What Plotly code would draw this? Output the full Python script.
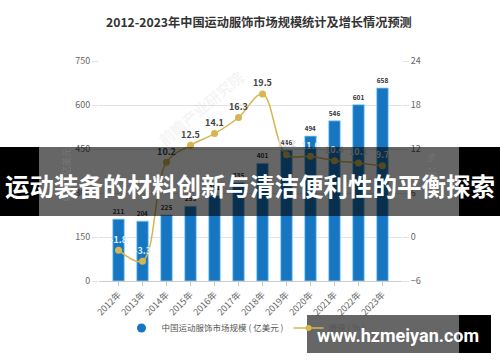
import plotly.graph_objects as go

years = ["2012年", "2013年", "2014年", "2015年", "2016年", "2017年",
         "2018年", "2019年", "2020年", "2021年", "2022年", "2023年"]
market_size = [211, 204, 225, 255, 291, 335, 401, 446, 494, 546, 601, 658]
growth = [-1.8, -3.3, 10.2, 12.5, 14.1, 16.3, 19.5, 11.2, 11.0, 10.4, 10.1, 9.7]
left_ticks = [0, 150, 300, 450, 600, 750]
right_ticks = [-6, 0, 6, 12, 18, 24]

W, H = 500, 362
L, R, T, B = 99, 402, 61, 281


def px(x):
    return (x - L) / (R - L)


def py(y):
    return (B - y) / (B - T)


FONT = "Noto Sans CJK SC, sans-serif"
BLUE = "#1776c2"
GOLD = "#d6b650"

fig = go.Figure()

fig.add_trace(go.Bar(
    x=years, y=market_size, marker=dict(color=BLUE, line=dict(color="#8ad2f0", width=0.8)),
    text=[str(v) for v in market_size], textposition="outside", cliponaxis=False,
    textfont=dict(size=9, color="#333", family=FONT, weight="bold"),
    showlegend=False, yaxis="y",
))

label_colors = ["#dcefff", "#dcefff", "#444", "#444", "#444", "#444", "#444",
                "#dddddd", "#dcefff", "#dddddd", "#dddddd", "#dddddd"]
fig.add_trace(go.Scatter(
    x=years, y=growth, mode="lines+markers+text", yaxis="y2",
    line=dict(color=GOLD, width=1.5, shape="spline", smoothing=1.0),
    marker=dict(color=GOLD, size=7),
    text=[f"{v:.1f}" for v in growth], textposition="top center",
    textfont=dict(size=9, color=label_colors, family=FONT, weight="bold"),
    cliponaxis=False, showlegend=False,
))

# legend entries
fig.add_trace(go.Scatter(x=[None], y=[None], mode="markers",
                         marker=dict(color=BLUE, size=9, symbol="circle"),
                         name="中国运动服饰市场规模 ( 亿美元 )"))
fig.add_trace(go.Scatter(x=[None], y=[None], mode="lines+markers",
                         line=dict(color=GOLD, width=1.5), marker=dict(color=GOLD, size=6),
                         name="增速 ( % )", yaxis="y2"))

shapes = []
annotations = []


def note(x, y, text, **kw):
    d = dict(x=px(x), y=py(y), xref="paper", yref="paper", text=text, showarrow=False,
             xanchor="center", yanchor="middle")
    d.update(kw)
    annotations.append(d)


note(259, 22, "<b>2012-2023年中国运动服饰市场规模统计及增长情况预测</b>",
     font=dict(size=12.2, color="#333", family=FONT))
note(66, 175, "单位：亿美元", textangle=-90, font=dict(size=9, color="#777", family=FONT))
note(431, 172, "单位：%", textangle=-90, font=dict(size=9, color="#777", family=FONT))
note(200, 108, "<b>前瞻产业研究院</b>", textangle=-40,
     font=dict(size=15, color="rgba(200,200,210,0.2)", family=FONT))
note(400, 346, "@前瞻经济学人APP", font=dict(size=8, color="#666", family=FONT))


def rect(x0, x1, y0, y1, color):
    shapes.append(dict(type="rect", xref="paper", yref="paper", x0=px(x0), x1=px(x1),
                       y0=py(y1), y1=py(y0), fillcolor=color, line=dict(width=0), layer="above"))


# banner overlay
rect(0, 39, 147, 216, "black")
rect(39, 459, 147, 216, "rgba(0,0,0,0.6)")
rect(459, 500, 147, 216, "black")
note(250, 185, "<b>运动装备的材料创新与清洁便利性的平衡探索</b>",
     font=dict(size=24.5, color="white", family=FONT))

# site watermark
rect(307, 459, 315, 353, "rgba(0,0,0,0.6)")
rect(459, 491, 315, 353, "black")
note(398, 335, "<b>www.hzmeiyan.com</b>", font=dict(size=18, color="white", family="Roboto, sans-serif"))

fig.update_layout(
    width=W, height=H,
    margin=dict(l=L, r=W - R, t=T, b=H - B, pad=0),
    paper_bgcolor="white", plot_bgcolor="white",
    font=dict(family=FONT, size=9, color="#666"),
    bargap=0.52,
    xaxis=dict(type="category", tickangle=-45, showgrid=False, showline=True,
               linecolor="#ccc", linewidth=1, ticks="outside", ticklen=4, tickcolor="#ccc",
               tickfont=dict(size=9, color="#666"), automargin=False),
    yaxis=dict(range=[0, 750], tickvals=left_ticks, showgrid=True, gridcolor="#e3e3e3",
               zeroline=False, ticks="outside", ticklen=6, tickcolor="#e3e3e3",
               tickfont=dict(size=9, color="#666"), showline=False, automargin=False),
    yaxis2=dict(range=[-6, 24], tickvals=right_ticks, overlaying="y", side="right",
                showgrid=False, zeroline=False, ticks="outside", ticklen=6, tickcolor="#e3e3e3",
                tickfont=dict(size=9, color="#666"), showline=False, automargin=False),
    legend=dict(orientation="h", x=px(246), xanchor="center", y=py(328), yanchor="middle",
                font=dict(size=8.5, color="#555", family=FONT), itemwidth=30,
                bgcolor="rgba(0,0,0,0)"),
    shapes=shapes, annotations=annotations,
)

fig.write_html("out.html", config={"displayModeBar": False},
               post_script="document.body.style.margin='0';")
